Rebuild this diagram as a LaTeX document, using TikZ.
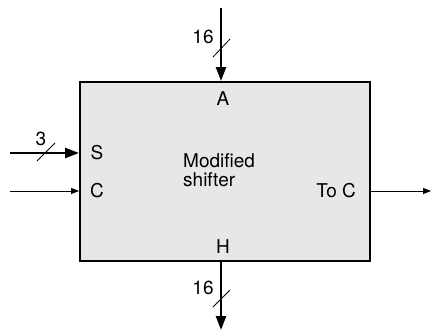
\documentclass[tikz,border=0pt]{standalone}
\usepackage{fontspec}
\setmainfont{TeX Gyre Heros}
\usetikzlibrary{arrows.meta}
\definecolor{boxfill}{HTML}{E6E7E8}
\begin{document}
\begin{tikzpicture}[x=1pt,y=-1pt,
  lbl/.style={font=\fontsize{19}{19}\selectfont, inner sep=0pt},
  bus/.style={line width=2.4pt, -{Triangle[length=14pt,width=10pt]}},
  wire/.style={line width=0.9pt, -{Triangle[length=8pt,width=6pt]}},
  slash/.style={line width=0.8pt}]
\useasboundingbox (0,0) rectangle (431,333);
\node[draw, line width=1.8pt, fill=boxfill, minimum width=290pt, minimum height=179pt, inner sep=0pt, anchor=north west] (box) at (79,81) {};
\coordinate (topin) at (221,8);
\coordinate (topend) at (221,81);
\coordinate (botstart) at (221,260);
\coordinate (botend) at (221,330);
\coordinate (sin) at (10,153);
\coordinate (send) at (79,153);
\coordinate (cin) at (10,191);
\coordinate (cend) at (79,191);
\coordinate (tocstart) at (369,191);
\coordinate (tocend) at (431,191);
\draw[bus] (topin) -- (topend);
\draw[bus] (botstart) -- (botend);
\draw[bus] (sin) -- (send);
\draw[wire] (cin) -- (cend);
\draw[wire] (tocstart) -- (tocend);
\draw[slash] (213,57) -- (230,39);
\draw[slash] (213,307) -- (230,290);
\draw[slash] (37,161) -- (55,143);
\node[lbl] (l16a) at (203,37) {16};
\node[lbl] (l16b) at (203,288) {16};
\node[lbl] (l3) at (41,139) {3};
\node[lbl] (la) at (223,99) {A};
\node[lbl] (lh) at (223,247) {H};
\node[lbl] (ls) at (97,153) {S};
\node[lbl] (lc) at (97,191) {C};
\node[lbl, anchor=east] (ltoc) at (356,191) {To C};
\node[lbl, align=left, anchor=north west] (lm) at (183,153) {Modified\\shifter};
\end{tikzpicture}
\end{document}
